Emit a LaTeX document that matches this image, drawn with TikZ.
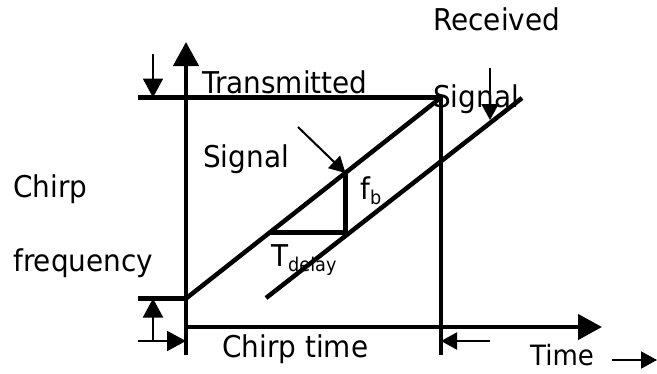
\documentclass[tikz,border=0pt]{standalone}
\usepackage{fontspec}
\setmainfont{DejaVu Sans}[FakeStretch=0.93]
\usetikzlibrary{arrows.meta}
\tikzset{
  lbl/.style={anchor=base west, inner sep=0pt, font=\fontsize{30}{36}\selectfont},
  thick line/.style={line width=4.5pt},
  axisarrow/.style={line width=4.5pt, -{Triangle[length=24pt,width=25pt]}},
  thinarrow/.style={line width=2pt, -{Triangle[length=19pt,width=20pt]}},
  smallarrow/.style={line width=2pt, -{Triangle[length=16pt,width=17pt]}},
}
\newcommand{\subtxt}[1]{\raisebox{-5pt}{\fontsize{19}{22}\selectfont #1}}
\begin{document}
\begin{tikzpicture}[x=1pt,y=-1pt]
\useasboundingbox (0,0) rectangle (657,373);
% key coordinates
\coordinate (O) at (186,355);
\coordinate (Ytop) at (186,42);
\coordinate (Xstart) at (186,327);
\coordinate (Xend) at (602,327);
\coordinate (TL) at (138,97.5);
\coordinate (TR) at (441,97.5);
\coordinate (RB) at (441,355);
\coordinate (BL) at (138,298.5);
\coordinate (BA) at (186,298.5);
\coordinate (RxS) at (266,298);
\coordinate (RxE) at (522,98);
\coordinate (TriL) at (270,232.5);
\coordinate (TriR) at (345.5,232.5);
\coordinate (TriT) at (345.5,173);
% axes
\draw[axisarrow] (O) -- (Ytop);
\draw[axisarrow] (Xstart) -- (Xend);
% frame lines
\draw[thick line] (TL) -- (TR) -- (RB);
\draw[thick line] (BL) -- (BA);
% chirps
\draw[thick line] (BA) -- (TR);
\draw[thick line] (RxS) -- (RxE);
% triangle
\draw[thick line] (TriL) -- (TriR) -- (TriT);
% small arrows
\coordinate (a1s) at (153,54);
\coordinate (a1e) at (153,97.5);
\draw[thinarrow] (a1s) -- (a1e);
\coordinate (a2s) at (153,341);
\coordinate (a2e) at (153,298.5);
\draw[thinarrow] (a2s) -- (a2e);
\coordinate (a3s) at (138,341);
\coordinate (a3e) at (186,341);
\draw[thinarrow] (a3s) -- (a3e);
\coordinate (a4s) at (490,341);
\coordinate (a4e) at (441,341);
\draw[smallarrow] (a4s) -- (a4e);
\coordinate (a5s) at (612,360);
\coordinate (a5e) at (657,360);
\draw[smallarrow] (a5s) -- (a5e);
\coordinate (a6s) at (490,68);
\coordinate (a6e) at (490,120);
\draw[smallarrow] (a6s) -- (a6e);
\coordinate (a7s) at (298,127);
\draw[smallarrow] (a7s) -- (TriT);
% labels
\node[lbl] (recv) at (433,30) {Received};
\node[lbl] (trans) at (202,93) {Transmitted};
\node[lbl] (sigR) at (433,107) {Signal};
\node[lbl] (sigL) at (203,167) {Signal};
\node[lbl] (chirp) at (13,197) {Chirp};
\node[lbl] (freq) at (13,271) {frequency};
\node[lbl] (fb) at (360,199) {f\subtxt{b}};
\node[lbl] (td) at (271,266.5) {T\subtxt{delay}};
\node[lbl] (ct) at (222,357) {Chirp time};
\node[lbl, font=\fontsize{28}{34}\selectfont] (time) at (530,365) {Time};
\end{tikzpicture}
\end{document}
